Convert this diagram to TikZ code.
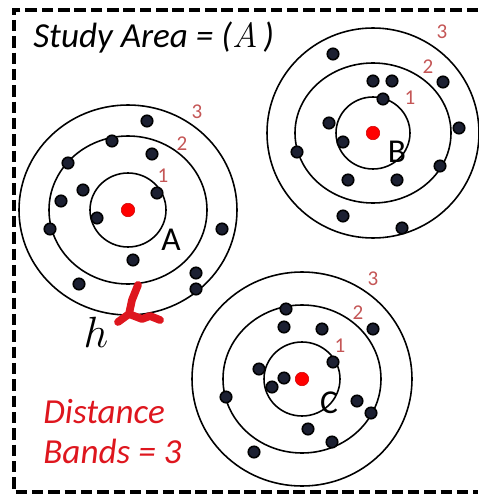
\documentclass[tikz,border=0pt]{standalone}
\usepackage{fontspec}
\newfontfamily\calib{Carlito}
\usetikzlibrary{positioning}
\definecolor{navy}{RGB}{28,32,50}
\definecolor{bandred}{RGB}{196,86,86}
\definecolor{textred}{RGB}{222,22,30}

\begin{document}
\begin{tikzpicture}[x=0.02cm, y=-0.02cm,
  ring/.style={draw=black, line width=0.9pt},
  pt/.style={circle, draw=black, fill=navy, line width=0.9pt, inner sep=0pt, minimum size=0.23cm},
  ctr/.style={circle, fill=red, draw=red!80!black, line width=0.3pt, inner sep=0pt, minimum size=0.27cm},
  band/.style={text=bandred, font=\calib\fontsize{12}{14}\selectfont, inner sep=0pt},
  clusterlabel/.style={font=\calib\fontsize{19}{22}\selectfont, inner sep=0pt},
  hmark/.style={draw=textred, line width=4.4pt, line cap=round, line join=round}
]
\useasboundingbox (0,0) rectangle (478,497);

% Study area frame (right side cut off)
\draw[line width=2pt, dash pattern=on 6.5pt off 2.8pt] (478,10) -- (14,10) -- (14,492) -- (478,492);

\node[anchor=base west, inner sep=0pt, font=\calib\fontsize{20}{24}\selectfont\itshape] (title) at (33,48)
  {Study Area = ($\mathit{A}$\,)};

% Three clusters of points
\node[ctr] (ca) at (128,210) {};
\node[ctr] (cb) at (373,133) {};
\node[ctr] (cc) at (302,379) {};

\draw[ring] (ca) ellipse [x radius=38, y radius=37];
\draw[ring] (ca) ellipse [x radius=79, y radius=74];
\draw[ring] (ca) ellipse [x radius=109, y radius=105];

\draw[ring] (cb) ellipse [x radius=37, y radius=36];
\draw[ring] (cb) ellipse [x radius=78, y radius=70];
\draw[ring] (cb) ellipse [x radius=106, y radius=105];

\draw[ring] (cc) ellipse [x radius=38, y radius=37];
\draw[ring] (cc) ellipse [x radius=79, y radius=74];
\draw[ring] (cc) ellipse [x radius=110, y radius=107];

\foreach \p [count=\i] in {(147,121),(112,141),(152,154),(68,163),(83,190),(157,193),(61,201),
    (97,218),(50,229),(222,229),(133,260),(196,273),(79,284),(196,289)}
  \node[pt] (pa\i) at \p {};
\foreach \p [count=\i] in {(333,54),(373,81),(392,81),(443,82),(383,99),(329,123),(459,128),
    (343,142),(297,152),(440,166),(348,180),(397,180),(343,216),(402,228)}
  \node[pt] (pb\i) at \p {};
\foreach \p [count=\i] in {(286,309),(284,327),(322,329),(373,329),(333,362),(259,369),(284,378),
    (272,387),(226,397),(357,401),(371,413),(308,429),(332,442),(254,452)}
  \node[pt] (pc\i) at \p {};

% Band numbers
\node[band] (a1) at (163,176) {1};
\node[band] (a2) at (182,144) {2};
\node[band] (a3) at (197,112) {3};
\node[band] (b1) at (410,98) {1};
\node[band] (b2) at (428,67) {2};
\node[band] (b3) at (442,32) {3};
\node[band] (c1) at (340,346) {1};
\node[band] (c2) at (358,313) {2};
\node[band] (c3) at (373,279) {3};

\node[clusterlabel] (la) at (171,240) {A};
\node[clusterlabel] (lb) at (397,152) {B};
\node[clusterlabel] (lc) at (329,403) {C};

% Band width h
\draw[hmark] (138,285) -- (132,300) -- (129,314) -- (118,322);
\draw[hmark] (129,314) -- (142,319) -- (150,316) -- (160,320);
\node[inner sep=0pt, font=\fontsize{38}{42}\selectfont] (h) at (96,332) {$h$};

\node[anchor=base west, inner sep=0pt, text=textred, font=\calib\fontsize{20}{24}\selectfont\itshape] (dist) at (43,423) {Distance};
\node[anchor=base west, inner sep=0pt, text=textred, font=\calib\fontsize{20}{24}\selectfont\itshape] (bands) at (43,463) {Bands = 3};

\end{tikzpicture}
\end{document}
